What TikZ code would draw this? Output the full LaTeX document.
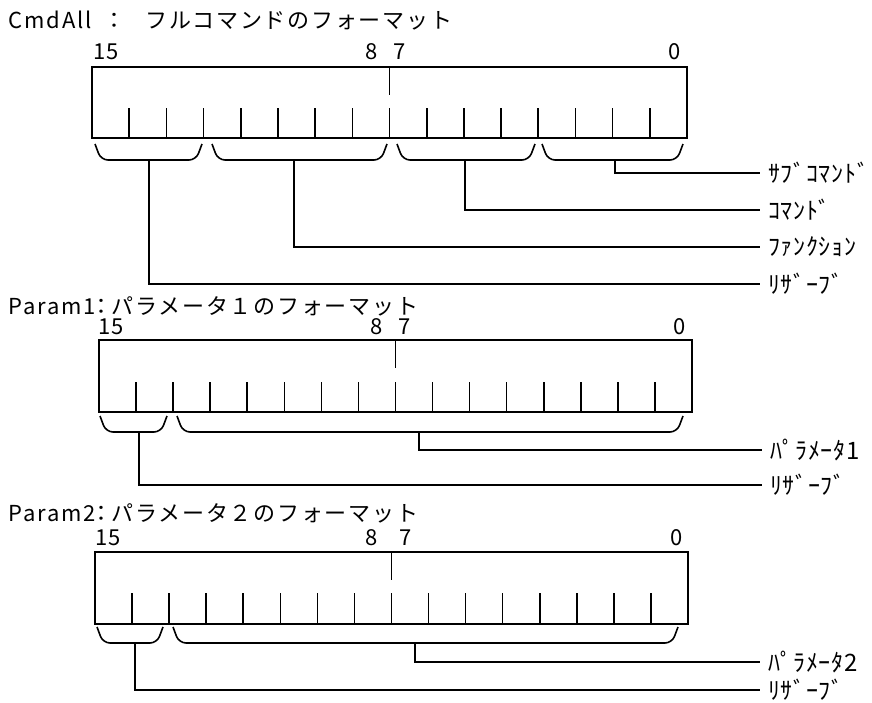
\documentclass[tikz,border=0pt]{standalone}
\usepackage{fontspec}
\setmainfont{Noto Sans CJK JP}
\usetikzlibrary{positioning}

\begin{document}
\begin{tikzpicture}[
    x=1pt, y=-1pt,
    line width=1.6pt,
    title/.style={anchor=west, inner sep=0pt, font=\fontsize{22}{22}\selectfont\addfontfeature{LetterSpace=8}},
    bitno/.style={inner sep=0pt, font=\fontsize{22}{22}\selectfont},
    field/.style={anchor=west, inner xsep=0pt, inner ysep=0pt, outer xsep=8pt, outer ysep=0pt, font=\fontsize{24}{24}\selectfont\addfontfeature{LetterSpace=3}},
    brace/.style={rounded corners=7pt},
    leader/.style={line join=miter}
]
\useasboundingbox (0,0) rectangle (872,702);

\node[title] (cmdall) at (8,21) {CmdAll\hspace{12pt}：\hspace{20pt}フルコマンドのフォーマット};
\node[bitno] (c15) at (106,52) {15};
\node[bitno] (c8) at (372,52) {8};
\node[bitno] (c7) at (400,52) {7};
\node[bitno] (c0) at (675,52) {0};
\draw (92,67) rectangle (687,138);
\draw ({92+8*37.19},67) -- ++(0,28);
\foreach \i in {1,...,15}
    \draw ({92+\i*37.19},108) -- ++(0,30);

\node[title] (param1) at (8,306) {Param1\hspace{-5pt}：\hspace{-1pt}パラメータ１のフォーマット};
\node[bitno] (p15) at (111,327) {15};
\node[bitno] (p8) at (377,327) {8};
\node[bitno] (p7) at (405,327) {7};
\node[bitno] (p0) at (680,327) {0};
\draw (99,340) rectangle (692,412);
\draw ({99+8*37.06},340) -- ++(0,28);
\foreach \i in {1,...,15}
    \draw ({99+\i*37.06},382) -- ++(0,30);

\node[title] (param2) at (8,513) {Param2\hspace{-5pt}：\hspace{-1pt}パラメータ２のフォーマット};
\node[bitno] (q15) at (108,538) {15};
\node[bitno] (q8) at (372,538) {8};
\node[bitno] (q7) at (406,538) {7};
\node[bitno] (q0) at (677,538) {0};
\draw (95,552) rectangle (688,624);
\draw ({95+8*37.06},552) -- ++(0,28);
\foreach \i in {1,...,15}
    \draw ({95+\i*37.06},593) -- ++(0,31);

\foreach \a/\b/\t in {95/202/144, 212/387/144, 397/535/144, 542/683/144,
                      100/167/416, 177/683/416, 97/163/627, 173/678/627}
    \draw[brace] (\a,\t) -- (\a+6,\t+16) -- (\b-6,\t+16) -- (\b,\t);

\coordinate (subbr) at (615,160);
\coordinate (cmdbr) at (465,160);
\coordinate (funcbr) at (294,160);
\coordinate (rsvbr) at (149,160);
\coordinate (par1br) at (419,432);
\coordinate (rsv1br) at (139,432);
\coordinate (par2br) at (415,643);
\coordinate (rsv2br) at (135,643);

\node[field] (sub) at (760,173) {ｻﾌﾞｺﾏﾝﾄﾞ};
\node[field] (cmd) at (760,210) {ｺﾏﾝﾄﾞ};
\node[field] (func) at (760,247) {ﾌｧﾝｸｼｮﾝ};
\node[field] (rsv) at (760,284) {ﾘｻﾞｰﾌﾞ};
\node[field] (par1) at (762,450) {ﾊﾟﾗﾒｰﾀ1};
\node[field] (rsv1) at (762,485) {ﾘｻﾞｰﾌﾞ};
\node[field] (par2) at (760,662) {ﾊﾟﾗﾒｰﾀ2};
\node[field] (rsv2) at (760,690) {ﾘｻﾞｰﾌﾞ};

\draw[leader] (subbr) |- (sub);
\draw[leader] (cmdbr) |- (cmd);
\draw[leader] (funcbr) |- (func);
\draw[leader] (rsvbr) |- (rsv);
\draw[leader] (par1br) |- (par1);
\draw[leader] (rsv1br) |- (rsv1);
\draw[leader] (par2br) |- (par2);
\draw[leader] (rsv2br) |- (rsv2);
\end{tikzpicture}
\end{document}
